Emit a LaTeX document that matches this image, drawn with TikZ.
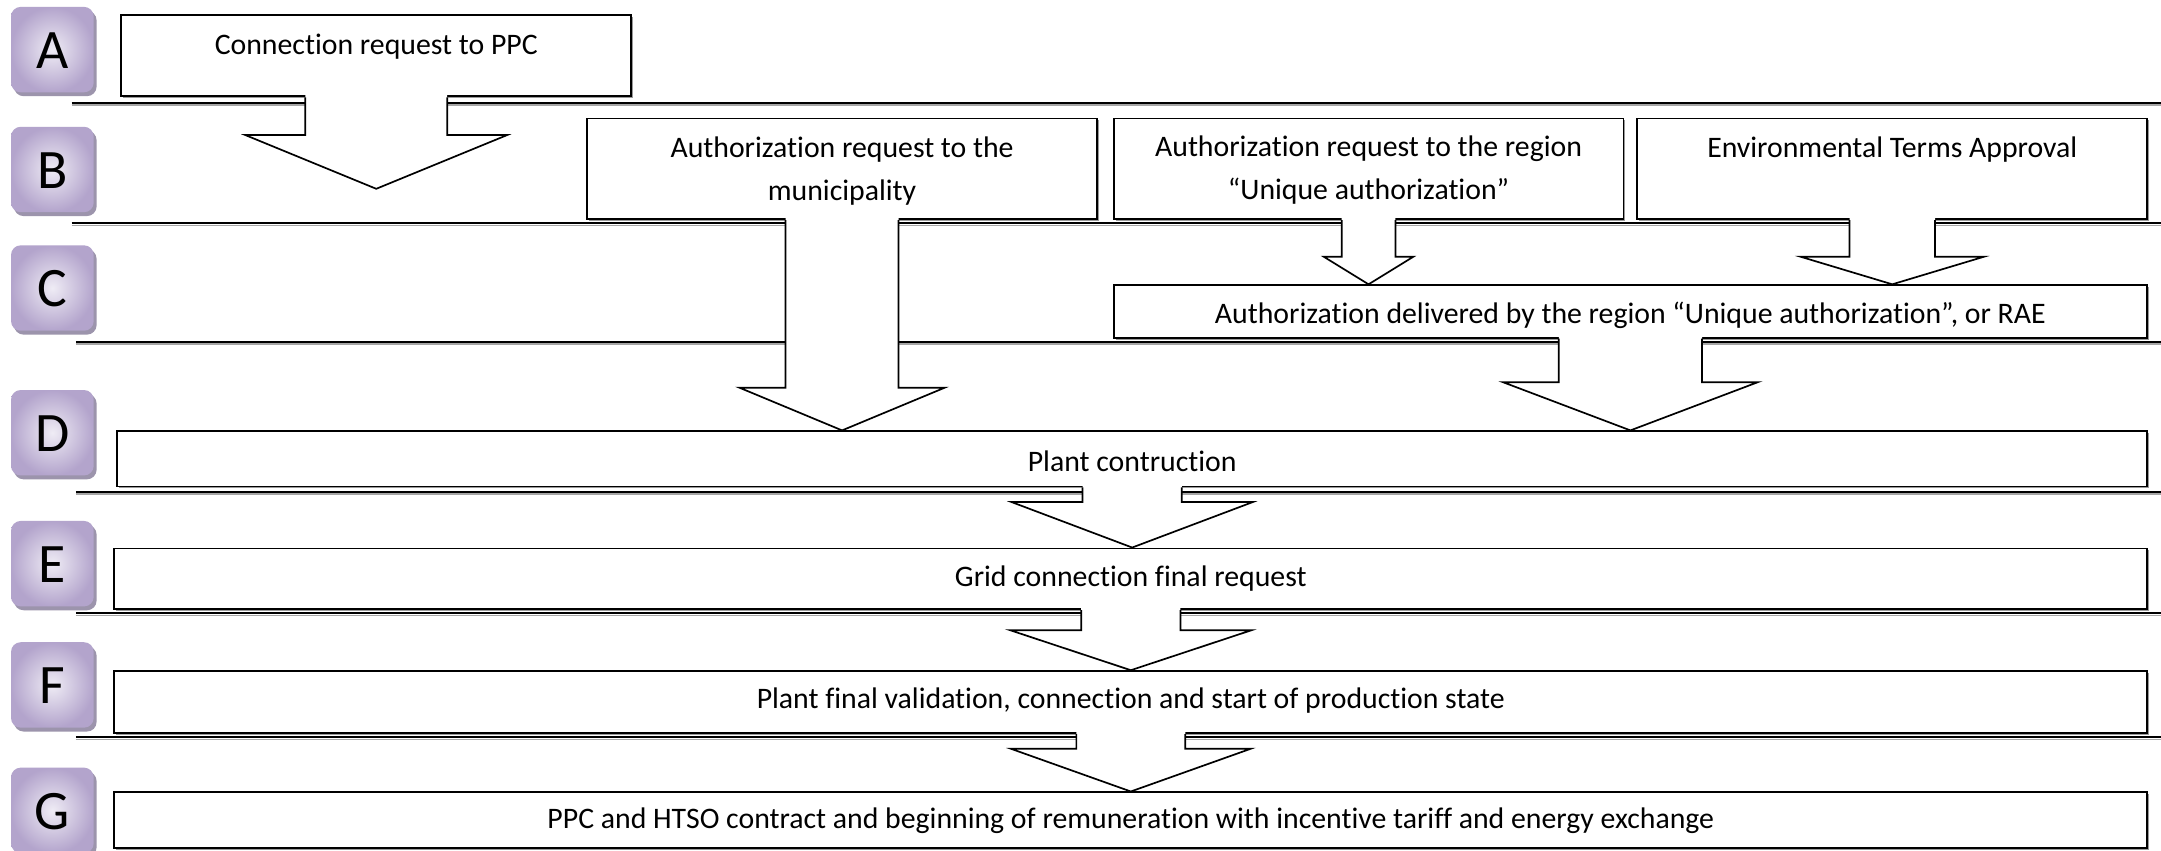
\documentclass[tikz,border=0pt]{standalone}
\usepackage{fontspec}
\setmainfont{Carlito}[Ligatures={NoCommon}]
\usetikzlibrary{calc,fit,shadows}
\definecolor{badgeLight}{HTML}{EFECF5}
\definecolor{badgeEdge}{HTML}{B3A4CC}
\definecolor{badgeShade}{HTML}{9C94AC}
\def\dpx{0.02cm}
% block arrow hanging below a box: #1 source node, #2 point giving the tip height,
% #3 shaft half width, #4 head half width, #5 head length (all in picture units)
\newcommand\blockarrow[5]{%
  \fill[white] let \p1=(#1.south), \p2=(#2) in
    (\x1-#3*\dpx,\y1+1.2pt) -- (\x1-#3*\dpx,\y2+#5*\dpx) -- (\x1-#4*\dpx,\y2+#5*\dpx)
    -- (\x1,\y2) -- (\x1+#4*\dpx,\y2+#5*\dpx) -- (\x1+#3*\dpx,\y2+#5*\dpx)
    -- (\x1+#3*\dpx,\y1+1.2pt) -- cycle;
  \draw[arrowline] let \p1=(#1.south), \p2=(#2) in
    (\x1-#3*\dpx,\y1) -- (\x1-#3*\dpx,\y2+#5*\dpx) -- (\x1-#4*\dpx,\y2+#5*\dpx)
    -- (\x1,\y2) -- (\x1+#4*\dpx,\y2+#5*\dpx) -- (\x1+#3*\dpx,\y2+#5*\dpx)
    -- (\x1+#3*\dpx,\y1);
}
\begin{document}
\begin{tikzpicture}[x=0.02cm, y=-0.02cm,
  rowline/.style={line width=0.8pt,
    preaction={draw=black!35, line width=0.6pt, transform canvas={yshift=-0.9pt}}},
  box/.style={draw=black, line width=0.8pt, fill=white, inner sep=0pt,
    general shadow={fill=black!40, shadow xshift=0.8pt, shadow yshift=-0.8pt}},
  arrowline/.style={draw=black, line width=0.7pt, line join=miter},
  badge/.style={rounded corners=0.14cm, minimum width=1.2cm, minimum height=1.24cm,
    inner sep=0pt, inner color=badgeLight, outer color=badgeEdge,
    drop shadow={shadow xshift=1.2pt, shadow yshift=-1.6pt, fill=badgeShade, opacity=1},
    font=\fontsize{23}{28}\selectfont, text height=1.55em, text depth=0pt},
  txt/.style={inner sep=0pt, align=center, font=\fontsize{12.3}{17.6}\selectfont}
]
\useasboundingbox (0,0) rectangle (1568,617);
\fill[white] (0,0) rectangle (1568,617);

% lines between the rows
\draw[rowline] (52,74.5) -- (1568,74.5);
\draw[rowline] (52,162) -- (1568,162);
\draw[rowline] (55,248) -- (1568,248);
\draw[rowline] (55,357) -- (1568,357);
\draw[rowline] (55,445) -- (1568,445);
\draw[rowline] (55,535) -- (1568,535);

% row letters
\node[badge] (kA) at (38,36) {A};
\node[badge] (kB) at (38,123) {B};
\node[badge] (kC) at (38,209) {C};
\node[badge] (kD) at (38,314) {D};
\node[badge] (kE) at (38,409) {E};
\node[badge] (kF) at (38,497) {F};
\node[badge] (kG) at (38,588) {G};

% step boxes
\node[box, fit={(88,11) (458,70)}] (bA) {};
\node[box, fit={(426,86) (796,159)}] (bB1) {};
\node[box, fit={(808,86) (1178,159)}] (bB2) {};
\node[box, fit={(1188,86) (1558,159)}] (bB3) {};
\node[box, fit={(808,207) (1558,245)}] (bC) {};
\node[box, fit={(85,313) (1558,353)}] (bD) {};
\node[box, fit={(83,398) (1558,442)}] (bE) {};
\node[box, fit={(83,487) (1558,532)}] (bF) {};
\node[box, fit={(83,575) (1558,615)}] (bG) {};

% arrows between the steps
\coordinate (tipA) at (273,137);
\blockarrow{bA}{tipA}{51.5}{95}{39}
\blockarrow{bB1}{bD.north}{41}{74.5}{31}
\blockarrow{bB2}{bC.north}{19.5}{32.5}{20}
\blockarrow{bB3}{bC.north}{31}{66.5}{20}
\blockarrow{bC}{bD.north}{52}{92.5}{35}
\blockarrow{bD}{bE.north}{36}{87.5}{33}
\blockarrow{bE}{bF.north}{36}{87.5}{29}
\blockarrow{bF}{bG.north}{39.5}{87}{31}

% step texts
\node[txt] (tA) at (273,33.5) {Connection request to PPC};
\node[txt] (tB1) at (611,124) {Authorization request to the\\municipality};
\node[txt] (tB2) at (993,123.5) {Authorization request to the region\\“Unique authorization”};
\node[txt] (tB3) at (1373,108.5) {Environmental Terms Approval};
\node[txt] (tC) at (1183,228.5) {Authorization delivered by the region “Unique authorization”, or RAE};
\node[txt] (tD) at (821.5,334.5) {Plant contruction};
\node[txt] (tE) at (820.5,419.5) {Grid connection final request};
\node[txt] (tF) at (820.5,508.5) {Plant final validation, connection and start of production state};
\node[txt] (tG) at (820.5,595.5) {PPC and HTSO contract and beginning of remuneration with incentive tariff and energy exchange};
\end{tikzpicture}
\end{document}
